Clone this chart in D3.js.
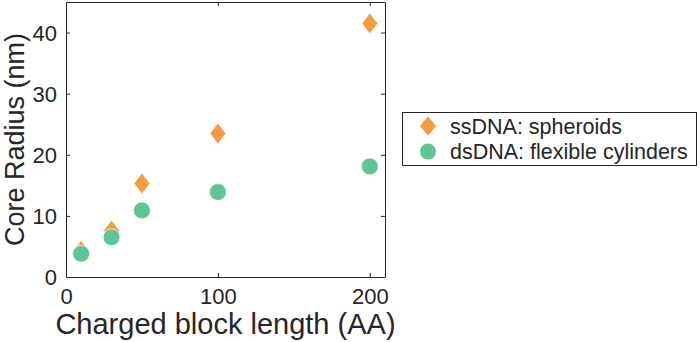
<!DOCTYPE html>
<html><head><meta charset="utf-8">
<script src="https://cdn.jsdelivr.net/npm/d3@7"></script>
<style>body{margin:0;background:#fff}svg{display:block}text{font-family:"Liberation Sans",Arial,Helvetica,sans-serif;fill:#262626}</style>
</head><body>
<svg id="c" width="700" height="342"></svg>
<script>
const lengths = [10, 30, 50, 100, 200];
const ssDNA = [4.3, 7.6, 15.3, 23.5, 41.5];
const dsDNA = [3.8, 6.5, 10.9, 13.9, 18.1];
const xTicks = [0, 100, 200];
const yTicks = [0, 10, 20, 30, 40];
const seriesNames = ["ssDNA: spheroids", "dsDNA: flexible cylinders"];
const colors = ["#f99a3c", "#5ec594"];

const svg = d3.select("#c");
const m = {l: 66, r: 385, t: 2, b: 277};
const x = d3.scaleLinear().domain([0, 210]).range([m.l, m.r]);
const y = d3.scaleLinear().domain([0, 45]).range([m.b, m.t]);
const ink = "#262626";

// axes
const gx = svg.append("g").attr("transform", `translate(0,${m.b})`)
  .call(d3.axisBottom(x).tickValues(xTicks).tickSizeInner(-4).tickSizeOuter(0).tickPadding(11));
const gxt = svg.append("g").attr("transform", `translate(0,${m.t})`)
  .call(d3.axisTop(x).tickValues(xTicks).tickSizeInner(-4).tickSizeOuter(0).tickFormat(""));
const gy = svg.append("g").attr("transform", `translate(${m.l},0)`)
  .call(d3.axisLeft(y).tickValues(yTicks).tickSizeInner(-4).tickSizeOuter(0).tickPadding(9));
const gyr = svg.append("g").attr("transform", `translate(${m.r},0)`)
  .call(d3.axisRight(y).tickValues(yTicks).tickSizeInner(-4).tickSizeOuter(0).tickFormat(""));
[gx, gxt, gy, gyr].forEach(g => {
  g.selectAll("path").attr("stroke", ink).attr("stroke-width", 1);
  g.selectAll("line").attr("stroke", ink);
  g.selectAll("text").style("font-size", "22px").attr("fill", ink);
});
gx.selectAll("text").attr("dy", "0.72em");
gy.selectAll("text").attr("dy", "0.35em");

svg.append("text").attr("x", (m.l + m.r) / 2).attr("y", 334)
  .attr("text-anchor", "middle").style("font-size", "29px").text("Charged block length (AA)");
svg.append("text").attr("transform", `translate(24,${(m.t + m.b) / 2}) rotate(-90)`)
  .attr("text-anchor", "middle").style("font-size", "27px").text("Core Radius (nm)");

const diamond = (cx, cy, w, h) => `M${cx},${cy - h / 2}L${cx + w / 2},${cy}L${cx},${cy + h / 2}L${cx - w / 2},${cy}Z`;

// ssDNA diamonds
svg.append("g").selectAll("path").data(lengths).join("path")
  .attr("d", (d, i) => diamond(x(d), y(ssDNA[i]), 16, 21))
  .attr("fill", colors[0]).attr("stroke", "#fff").attr("stroke-width", 0.8);
// dsDNA circles
svg.append("g").selectAll("circle").data(lengths).join("circle")
  .attr("cx", d => x(d)).attr("cy", (d, i) => y(dsDNA[i])).attr("r", 8.5)
  .attr("fill", colors[1]).attr("stroke", "#fff").attr("stroke-width", 0.8);

// legend
const lg = svg.append("g");
lg.append("rect").attr("x", 402.5).attr("y", 112.5).attr("width", 294).attr("height", 53)
  .attr("fill", "#fff").attr("stroke", ink).attr("stroke-width", 1);
lg.append("path").attr("d", diamond(428, 126, 16, 19)).attr("fill", colors[0]);
lg.append("circle").attr("cx", 428).attr("cy", 151.5).attr("r", 8).attr("fill", colors[1]);
seriesNames.forEach((s, i) => {
  lg.append("text").attr("x", 450).attr("y", 126 + i * 25.5).attr("dy", "0.35em")
    .style("font-size", "21.5px").text(s);
});
</script>
</body></html>
